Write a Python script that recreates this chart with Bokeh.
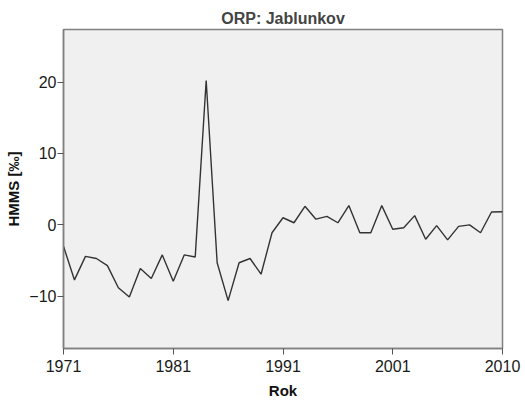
from bokeh.plotting import figure
from bokeh.models import Range1d, FixedTicker, ColumnDataSource
from bokeh.embed import file_html
from bokeh.resources import INLINE

# Category positions along the axis (0..40) and their tick labels
positions = list(range(41))
tick_positions = [0, 10, 20, 30, 40]
tick_labels = ["1971", "1981", "1991", "2001", "2010"]

# HMMS [‰] values
hmms = [-3.0, -7.7, -4.4, -4.7, -5.7, -8.8, -10.1, -6.1, -7.5, -4.2,
        -7.9, -4.2, -4.5, 20.2, -5.3, -10.6, -5.3, -4.7, -6.9, -1.1,
        1.0, 0.3, 2.6, 0.8, 1.2, 0.3, 2.7, -1.1, -1.1, 2.7,
        -0.6, -0.4, 1.3, -2.0, -0.1, -2.1, -0.2, 0.0, -1.1, 1.8,
        1.85]

y_ticks = [-10, 0, 10, 20]

src = ColumnDataSource(dict(x=positions, y=hmms))

FONT = "Liberation Sans"

p = figure(width=525, height=401, output_backend="svg", toolbar_location=None,
           x_range=Range1d(0, 40), y_range=Range1d(-17.3, 27.35),
           title="ORP: Jablunkov")
p.min_border_left = 63
p.min_border_right = 23
p.min_border_top = 29
p.min_border_bottom = 52

p.background_fill_color = "#f0f0f0"
p.border_fill_color = "white"
p.outline_line_color = "#808080"
p.outline_line_width = 1.5
p.xgrid.visible = False
p.ygrid.visible = False

p.title.text_font = FONT
p.title.text_font_size = "16px"
p.title.text_font_style = "bold"
p.title.align = "center"
p.title.offset = -20
p.title.standoff = 6

p.line("x", "y", source=src, line_color="#333333", line_width=1.4)

for ax in (p.xaxis[0], p.yaxis[0]):
    ax.axis_line_color = "#808080"
    ax.axis_line_width = 1.5
    ax.major_tick_line_color = "#555555"
    ax.major_tick_out = 6
    ax.major_tick_in = 0
    ax.minor_tick_line_color = None
    ax.major_label_text_font = FONT
    ax.major_label_text_font_size = "16px"
    ax.major_label_text_color = "#1a1a1a"
    ax.axis_label_text_font = FONT
    ax.axis_label_text_font_size = "15px"
    ax.axis_label_text_font_style = "bold"
    ax.axis_label_text_color = "#111111"

p.xaxis.major_label_standoff = 5
p.xaxis.axis_label_standoff = 7
p.yaxis.major_label_standoff = 1
p.yaxis.axis_label_standoff = 4

p.xaxis.ticker = FixedTicker(ticks=tick_positions)
p.xaxis.major_label_overrides = dict(zip(tick_positions, tick_labels))
p.xaxis.axis_label = "Rok"
p.yaxis.ticker = FixedTicker(ticks=y_ticks)
p.yaxis.axis_label = "HMMS [‰]"

open("out.html", "w").write(file_html(p, INLINE))
